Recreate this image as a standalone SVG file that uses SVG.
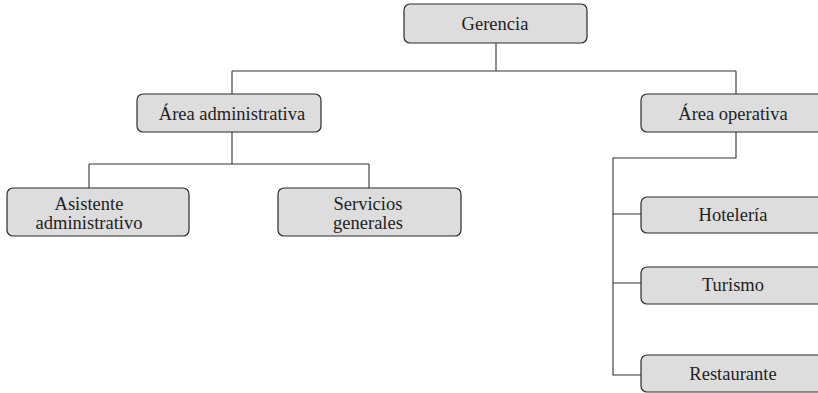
<svg xmlns="http://www.w3.org/2000/svg" width="818" height="393" viewBox="0 0 818 393">
<style>
.box{fill:#dddddd;stroke:#2b2b2b;stroke-width:1.2}
.t{font-family:"Liberation Serif","Times New Roman",serif;font-size:18.5px;fill:#222;text-anchor:middle}
.c{fill:none;stroke:#333;stroke-width:1.1}
</style>
<rect width="818" height="393" fill="#ffffff"/>
<g id="connectors">
<path class="c" d="M496 43V71M232 71H736M232 71V94M736 71V94"/>
<path class="c" d="M232 132V164M89 164H369M89 164V188M369 164V188"/>
<path class="c" d="M736 132V158H613V375H641M613 214H641M613 283H641"/>
</g>
<g id="gerencia"><rect class="box" x="404" y="4" width="183" height="39" rx="6"/><text class="t" x="495" y="29.5">Gerencia</text></g>
<g id="area-administrativa"><rect class="box" x="137" y="94" width="184" height="38" rx="6"/><text class="t" x="232" y="119.5">Área administrativa</text></g>
<g id="area-operativa"><rect class="box" x="641" y="94" width="185" height="38" rx="6"/><text class="t" x="733" y="119.5">Área operativa</text></g>
<g id="asistente"><rect class="box" x="7" y="188" width="182" height="48" rx="6"/><text class="t" x="89" y="210">Asistente</text><text class="t" x="89" y="229">administrativo</text></g>
<g id="servicios"><rect class="box" x="278" y="188" width="183" height="48" rx="6"/><text class="t" x="368" y="210">Servicios</text><text class="t" x="368" y="229">generales</text></g>
<g id="hoteleria"><rect class="box" x="641" y="197" width="185" height="36" rx="6"/><text class="t" x="733" y="221">Hotelería</text></g>
<g id="turismo"><rect class="box" x="641" y="267" width="185" height="37" rx="6"/><text class="t" x="733" y="291">Turismo</text></g>
<g id="restaurante"><rect class="box" x="641" y="355" width="185" height="37" rx="6"/><text class="t" x="733" y="380">Restaurante</text></g>
</svg>
